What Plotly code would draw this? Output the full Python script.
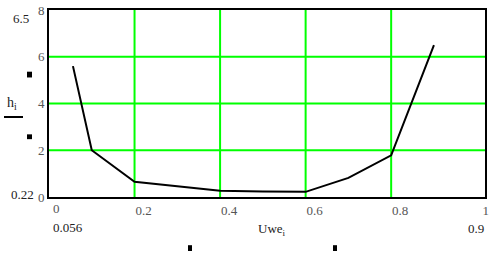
import plotly.graph_objects as go

# Data
uwe = [0.056, 0.1, 0.2, 0.3, 0.4, 0.5, 0.6, 0.7, 0.8, 0.9]
h = [5.6, 2.0, 0.65, 0.46, 0.27, 0.24, 0.22, 0.82, 1.78, 6.5]
x_ticks = [0.2, 0.4, 0.6, 0.8, 1]
x_tick_text = ["0.2", "0.4", "0.6", "0.8", "1"]
x_origin_label = "0"
y_ticks = [0, 2, 4, 6, 8]
y_tick_text = ["0", "2", "4", "6", "8"]
x_grid = [0.2, 0.4, 0.6, 0.8]
y_grid = [2, 4, 6]
marker_labels = {"ymax": "6.5", "ymin": "0.22", "xmin": "0.056", "xmax": "0.9"}

W, H = 494, 253
L, R, T, B = 49, 485, 3, 197
SERIF = "Liberation Serif, Times New Roman, DejaVu Serif, serif"


def px(x):
    return (x - L) / (R - L)


def py(y):
    return (B - y) / (B - T)


fig = go.Figure()
fig.add_trace(go.Scatter(x=uwe, y=h, mode="lines",
                         line=dict(color="black", width=2), showlegend=False,
                         hoverinfo="skip"))

shapes = []
for gx in x_grid:
    shapes.append(dict(type="line", xref="x", yref="paper", x0=gx, x1=gx, y0=0, y1=1,
                       line=dict(color="#00ff00", width=2), layer="below"))
for gy in y_grid:
    shapes.append(dict(type="line", xref="paper", yref="y", x0=0, x1=1, y0=gy, y1=gy,
                       line=dict(color="#00ff00", width=2), layer="below"))

# decorative marker squares
for (x0, y0, x1, y1) in [(27, 67, 32, 73), (27, 132, 32, 137), (188, 247, 192, 253), (333, 247, 337, 253)]:
    shapes.append(dict(type="rect", xref="paper", yref="paper",
                       x0=px(x0), x1=px(x1), y0=py(y1), y1=py(y0),
                       fillcolor="black", line=dict(width=0)))
# line under h_i
shapes.append(dict(type="line", xref="paper", yref="paper", x0=px(4), x1=px(23),
                   y0=py(114), y1=py(114), line=dict(color="black", width=2)))

font = dict(family=SERIF, size=13, color="#555")
ann = []


def add_text(text, x, y, xanchor="center", size=13, color="#222"):
    ann.append(dict(text=text, xref="paper", yref="paper", x=px(x), y=py(y),
                    xanchor=xanchor, yanchor="middle", showarrow=False,
                    font=dict(family=SERIF, size=size, color=color)))


add_text(marker_labels["ymax"], 21, 12)
add_text(marker_labels["ymin"], 22, 194)
add_text(marker_labels["xmin"], 68, 229)
add_text(marker_labels["xmax"], 476, 230)
add_text("h<sub>i</sub>", 12, 100, size=14)
add_text("Uwe<sub>i</sub>", 272, 231)
add_text(x_origin_label, 56, 209, color="#555")

fig.update_layout(
    width=W, height=H,
    margin=dict(l=L, r=W - R, t=T, b=H - B),
    plot_bgcolor="white", paper_bgcolor="white",
    shapes=shapes, annotations=ann,
    xaxis=dict(range=[0, (R - 48.7) / 428], tickvals=x_ticks, ticktext=x_tick_text,
               showgrid=False, zeroline=False, showline=True, linecolor="black",
               linewidth=2, mirror=True, ticks="", tickfont=font, ticklabelshift=9,
               ticklabelstandoff=0, ticklabeloverflow="allow"),
    yaxis=dict(range=[0, 8], tickvals=y_ticks, ticktext=y_tick_text,
               showgrid=False, zeroline=False, showline=True, linecolor="black",
               linewidth=2, mirror=True, ticks="", tickfont=font, ticklabelstandoff=0,
               ticklabeloverflow="allow"),
)

fig.write_html("out.html")
